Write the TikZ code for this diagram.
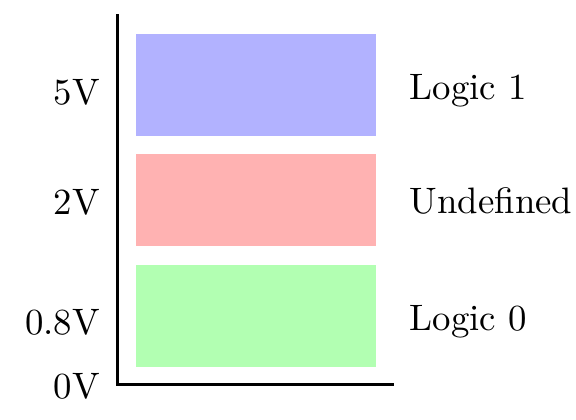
\documentclass[tikz,border=0pt]{standalone}
\usepackage{fontspec}
\begin{document}
\begin{tikzpicture}[x=1pt,y=1pt,
  band/.style={draw=none, inner sep=0pt, minimum width=240pt},
  lbl/.style={inner sep=0pt, font=\fontsize{10}{12}\selectfont, scale=3.68, transform shape},
  axisline/.style={line width=3.3pt, line cap=rect, line join=miter}]
\useasboundingbox (0,0) rectangle (576,420);
% axes
\coordinate (top) at (117.5,404);
\coordinate (corner) at (117.5,35.3);
\coordinate (right) at (392,35.3);
\draw[axisline] (top) -- (corner) -- (right);
% bands
\node[band, fill=blue!30, minimum height=102pt] (b1) at (256,335) {};
\node[band, fill=red!30, minimum height=91.7pt] (b2) at (256,219.85) {};
\node[band, fill=green!30, minimum height=101.7pt] (b3) at (256,104.15) {};
% left labels
\node[lbl, anchor=base east] (v5) at (100.5,315) {5V};
\node[lbl, anchor=base east] (v2) at (100.5,205) {2V};
\node[lbl, anchor=base east] (v08) at (100.5,85) {0.8V};
\node[lbl, anchor=base east] (v0) at (100.5,21.7) {0V};
% right labels
\node[lbl, anchor=base west] (l1) at (409,320.7) {Logic 1};
\node[lbl, anchor=base west] (lu) at (409,206.7) {Undefined};
\node[lbl, anchor=base west] (l0) at (409,89.3) {Logic 0};
\end{tikzpicture}
\end{document}
